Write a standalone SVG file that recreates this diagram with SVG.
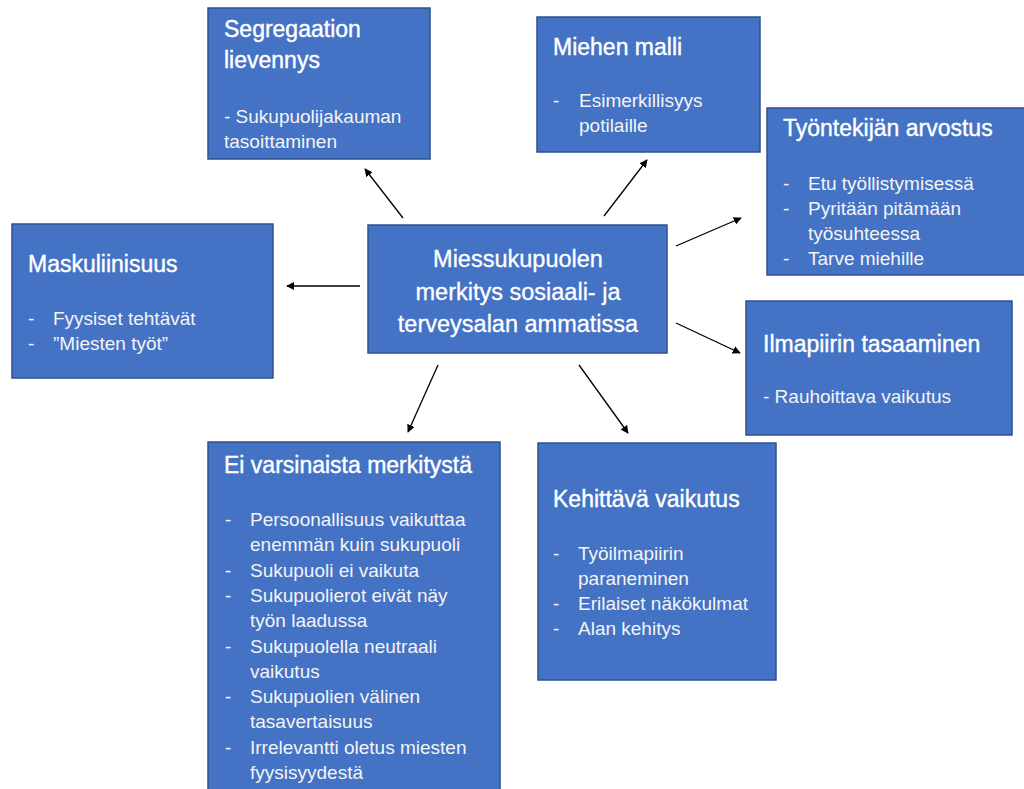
<svg xmlns="http://www.w3.org/2000/svg" width="1024" height="789" viewBox="0 0 1024 789">
<defs>
<marker id="ah" viewBox="0 0 10 10" refX="9" refY="5" markerWidth="8" markerHeight="8" markerUnits="userSpaceOnUse" orient="auto">
<path d="M0,0 L10,5 L0,10 z" fill="#000"/>
</marker>
<style>
.box{fill:#4472C4;stroke:#2F528F;stroke-width:1.5}
.t{font-family:"Liberation Sans",Arial,sans-serif;font-size:23px;fill:#fff;stroke:#fff;stroke-width:0.4}
.b{font-family:"Liberation Sans",Arial,sans-serif;font-size:19px;fill:#F4F4F4}
.c{font-family:"Liberation Sans",Arial,sans-serif;font-size:23.5px;fill:#fff;stroke:#fff;stroke-width:0.3;text-anchor:middle}
.ln{stroke:#000;stroke-width:1.3;fill:none;marker-end:url(#ah)}
</style>
</defs>
<rect width="1024" height="789" fill="#fff"/>
<g id="connectors">
<line class="ln" x1="403" y1="218" x2="365" y2="169"/>
<line class="ln" x1="604" y1="216" x2="647" y2="160"/>
<line class="ln" x1="676" y1="246" x2="741" y2="218"/>
<line class="ln" x1="360" y1="286" x2="287" y2="286"/>
<line class="ln" x1="676" y1="323" x2="740" y2="353"/>
<line class="ln" x1="438" y1="365" x2="408" y2="432"/>
<line class="ln" x1="579" y1="365" x2="628" y2="433"/>
</g>
<g id="center">
<rect class="box" x="368" y="225" width="299" height="128"/>
<text class="c" x="518" y="267">Miessukupuolen</text>
<text class="c" x="518" y="300">merkitys sosiaali- ja</text>
<text class="c" x="518" y="332">terveysalan ammatissa</text>
</g>
<g id="segregaatio">
<rect class="box" x="208" y="8" width="222" height="151"/>
<text class="t" x="224" y="37">Segregaation</text>
<text class="t" x="224" y="68">lievennys</text>
<text class="b" x="224" y="123">- Sukupuolijakauman</text>
<text class="b" x="224" y="148">tasoittaminen</text>
</g>
<g id="miehen-malli">
<rect class="box" x="537" y="17" width="223" height="135"/>
<text class="t" x="553" y="55">Miehen malli</text>
<text class="b" x="553" y="107">-</text>
<text class="b" x="579" y="107">Esimerkillisyys</text>
<text class="b" x="579" y="132">potilaille</text>
</g>
<g id="tyontekija">
<rect class="box" x="767" y="108" width="262" height="167"/>
<text class="t" x="783" y="136">Työntekijän arvostus</text>
<text class="b" x="783" y="190">-</text>
<text class="b" x="808" y="190">Etu työllistymisessä</text>
<text class="b" x="783" y="215">-</text>
<text class="b" x="808" y="215">Pyritään pitämään</text>
<text class="b" x="808" y="240">työsuhteessa</text>
<text class="b" x="783" y="265">-</text>
<text class="b" x="808" y="265">Tarve miehille</text>
</g>
<g id="maskuliinisuus">
<rect class="box" x="12" y="224" width="261" height="154"/>
<text class="t" x="28" y="272">Maskuliinisuus</text>
<text class="b" x="28" y="325">-</text>
<text class="b" x="53" y="325">Fyysiset tehtävät</text>
<text class="b" x="28" y="350">-</text>
<text class="b" x="53" y="350">”Miesten työt”</text>
</g>
<g id="ilmapiiri">
<rect class="box" x="746" y="301" width="266" height="134"/>
<text class="t" x="763" y="352">Ilmapiirin tasaaminen</text>
<text class="b" x="763" y="403">- Rauhoittava vaikutus</text>
</g>
<g id="ei-merkitysta">
<rect class="box" x="208" y="442" width="292" height="360"/>
<text class="t" x="224" y="473">Ei varsinaista merkitystä</text>
<text class="b" x="225" y="526">-</text>
<text class="b" x="250" y="526">Persoonallisuus vaikuttaa</text>
<text class="b" x="250" y="551.3">enemmän kuin sukupuoli</text>
<text class="b" x="225" y="576.6">-</text>
<text class="b" x="250" y="576.6">Sukupuoli ei vaikuta</text>
<text class="b" x="225" y="601.9">-</text>
<text class="b" x="250" y="601.9">Sukupuolierot eivät näy</text>
<text class="b" x="250" y="627.2">työn laadussa</text>
<text class="b" x="225" y="652.5">-</text>
<text class="b" x="250" y="652.5">Sukupuolella neutraali</text>
<text class="b" x="250" y="677.8">vaikutus</text>
<text class="b" x="225" y="703.1">-</text>
<text class="b" x="250" y="703.1">Sukupuolien välinen</text>
<text class="b" x="250" y="728.4">tasavertaisuus</text>
<text class="b" x="225" y="753.7">-</text>
<text class="b" x="250" y="753.7">Irrelevantti oletus miesten</text>
<text class="b" x="250" y="779">fyysisyydestä</text>
</g>
<g id="kehittava">
<rect class="box" x="538" y="443" width="238" height="237"/>
<text class="t" x="553" y="507">Kehittävä vaikutus</text>
<text class="b" x="553" y="560">-</text>
<text class="b" x="578" y="560">Työilmapiirin</text>
<text class="b" x="578" y="585">paraneminen</text>
<text class="b" x="553" y="610">-</text>
<text class="b" x="578" y="610">Erilaiset näkökulmat</text>
<text class="b" x="553" y="635">-</text>
<text class="b" x="578" y="635">Alan kehitys</text>
</g>
</svg>
